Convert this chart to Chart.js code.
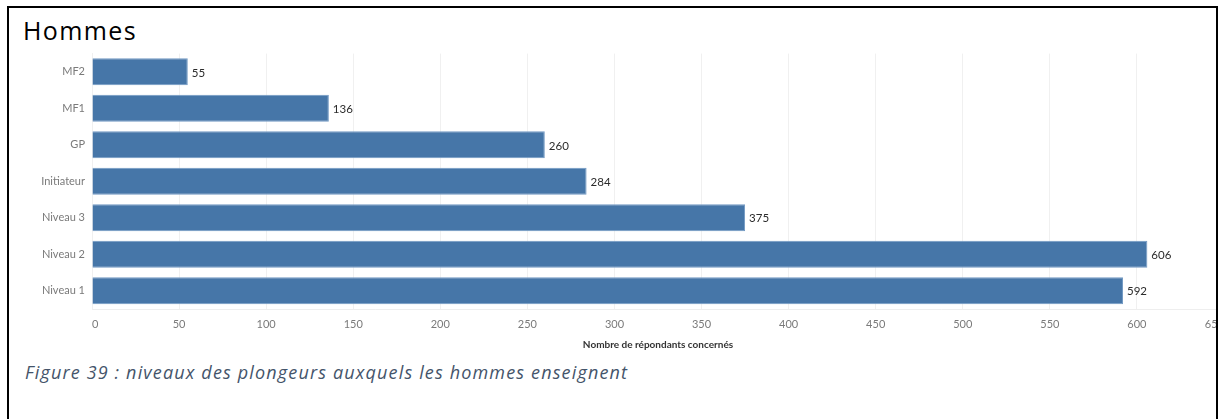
<!DOCTYPE html>
<html>
<head>
<meta charset="utf-8">
<script src="https://cdn.jsdelivr.net/npm/chart.js@4/dist/chart.umd.min.js"></script>
<style>
  html, body { margin: 0; padding: 0; background: #fff; width: 1219px; height: 419px; overflow: hidden; }
  #frame {
    position: absolute; left: 7px; top: 6px; width: 1207px; height: 430px;
    border: 2px solid #000; border-bottom: none; overflow: hidden;
  }
  #title {
    position: absolute; left: 14px; top: 7px; margin: 0;
    font-family: 'Open Sans', sans-serif; font-size: 25px; line-height: 30px;
    letter-spacing: 1.4px; color: #000;
  }
  #wrap { position: absolute; left: 0; top: 32px; width: 1228px; height: 320px; }
  #caption {
    position: absolute; left: 16px; top: 352px; margin: 0;
    font-family: 'Open Sans', sans-serif; font-style: italic; font-size: 18px;
    line-height: 24px; letter-spacing: 1.15px; color: #44546a;
  }
</style>
</head>
<body>
<div id="frame">
  <div id="title">Hommes</div>
  <div id="wrap"><canvas id="barChart" width="1228" height="320"></canvas></div>
  <div id="caption">Figure 39 : niveaux des plongeurs auxquels les hommes enseignent</div>
</div>
<script>
// Hommes · niveaux enseignés

const levels = ['MF2', 'MF1', 'GP', 'Initiateur', 'Niveau 3', 'Niveau 2', 'Niveau 1'];
const counts = [55, 136, 260, 284, 375, 606, 592];
const xTicks = [0, 50, 100, 150, 200, 250, 300, 350, 400, 450, 500, 550, 600, 650];

const FONT = "Lato, 'Open Sans', sans-serif";

// ── value labels at the end of each bar ──
const valueLabels = {
  id: 'valueLabels',
  afterDatasetsDraw(chart) {
    const ctx = chart.ctx;
    const meta = chart.getDatasetMeta(0);
    ctx.save();
    ctx.font = `11.5px ${FONT}`;
    ctx.fillStyle = '#2b2b2b';
    ctx.textAlign = 'left';
    ctx.textBaseline = 'middle';
    meta.data.forEach((bar, i) => {
      ctx.fillText(String(counts[i]), bar.x + 4, bar.y + 1);
    });
    ctx.restore();
  }
};

Chart.defaults.font.family = FONT;

new Chart(document.getElementById('barChart'), {
  type: 'bar',
  data: {
    labels: levels,
    datasets: [{
      data: counts,
      backgroundColor: '#4676a8',
      borderColor: '#7299c3',
      borderWidth: 1,
      barPercentage: 0.74,
      categoryPercentage: 1,
    }]
  },
  options: {
    indexAxis: 'y',
    responsive: false,
    devicePixelRatio: 1,
    animation: false,
    layout: { padding: { left: 0, right: 13, top: 10, bottom: 6 } },
    plugins: {
      legend: { display: false },
      tooltip: { enabled: false }
    },
    scales: {
      x: {
        min: 0,
        max: 650,
        afterBuildTicks: scale => { scale.ticks = xTicks.map(v => ({ value: v })); },
        afterFit: scale => { scale.height = 45; },
        grid: { color: '#f0f0f0', drawTicks: false },
        border: { color: '#eeeeee' },
        ticks: { color: '#7a7a7a', font: { size: 11 }, padding: 9, align: 'inner', maxRotation: 0, autoSkip: false },
        title: {
          display: true,
          text: 'Nombre de répondants concernés',
          color: '#333',
          font: { size: 10, weight: 'bold' },
          padding: { top: 0, bottom: 3 }
        }
      },
      y: {
        afterFit: scale => { scale.width = 83; },
        grid: { display: false, drawTicks: false },
        border: { color: '#f0f0f0' },
        ticks: { color: '#7a7a7a', font: { size: 11 }, padding: 7 }
      }
    }
  },
  plugins: [valueLabels]
});
</script>
</body>
</html>
